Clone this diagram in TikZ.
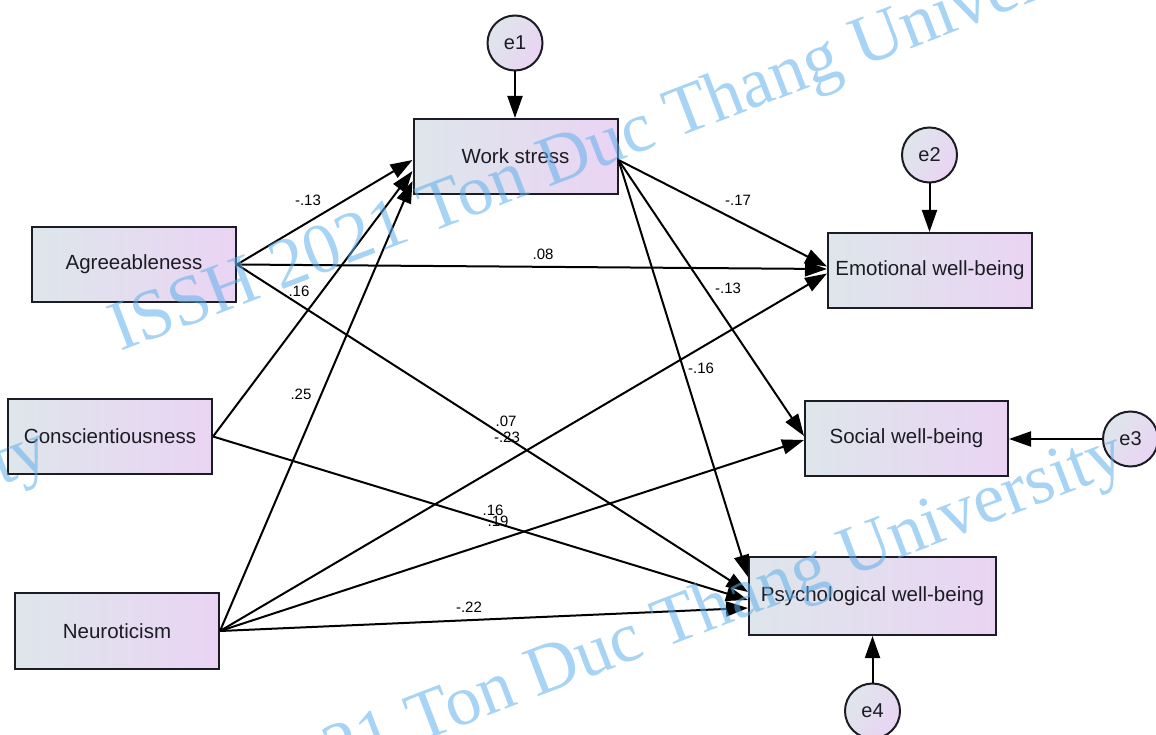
\documentclass[tikz,border=0pt]{standalone}
\usepackage{fontspec}
\setmainfont{Liberation Sans}
\newfontfamily\wmfont{Liberation Serif}
\usetikzlibrary{arrows.meta,calc}

\definecolor{boxL}{RGB}{222,230,235}
\definecolor{boxR}{RGB}{234,212,243}
\definecolor{wmblue}{RGB}{95,175,235}
\definecolor{ink}{RGB}{28,28,36}

\begin{document}
\begin{tikzpicture}[x=1pt,y=-1pt,
  varbox/.style={draw=ink, line width=2pt, left color=boxL, right color=boxR,
    minimum width=204pt, minimum height=75pt, inner sep=0pt,
    font=\fontsize{20.5}{24}\selectfont, text=ink},
  errc/.style={circle, draw=ink, line width=2pt, left color=boxL, right color=boxR,
    shading angle=60, minimum size=55pt, inner sep=0pt,
    font=\fontsize{20}{24}\selectfont, text=ink},
  link/.style={line width=2pt, draw=black, -{Triangle[length=22pt,width=15pt]}},
  coef/.style={font=\fontsize{15}{18}\selectfont, inner sep=0pt, text=black},
  wmark/.style={font=\wmfont\fontsize{71}{80}\selectfont, text=wmblue,
    text opacity=0.55, anchor=base west, rotate=21, inner sep=0pt}
]
\useasboundingbox (0,0) rectangle (1156,735);
\fill[white] (0,0) rectangle (1156,735);

% observed variables
\node[varbox] (ws) at (515.5,156.5) {Work stress};
\node[varbox] (ag) at (134,264.5) {Agreeableness};
\node[varbox] (co) at (110,436.5) {Conscientiousness};
\node[varbox, minimum height=76pt] (ne) at (117,631) {Neuroticism};
\node[varbox] (ew) at (930,270.5) {Emotional well-being};
\node[varbox, minimum width=203pt] (sw) at (906.5,438.5) {Social well-being};
\node[varbox, minimum width=247pt, minimum height=78pt] (pw) at (872.5,596) {Psychological well-being};

% residual terms
\node[errc] (e1) at (515,43) {e1};
\node[errc] (e2) at (929.5,155) {e2};
\node[errc] (e3) at (1130.5,439) {e3};
\node[errc] (e4) at (872.5,711) {e4};

% residual paths
\draw[link] (e1.south) -- (e1.south |- ws.north);
\draw[link] (e2.south) -- (e2.south |- ew.north);
\draw[link] (e3.west) -- (e3.west -| sw.east);
\draw[link] (e4.north) -- (e4.north |- pw.south);

% predictors -> work stress
\draw[link] (ag.east) -- ([yshift=-3.5pt]ws.west);
\draw[link] (co.east) -- ([yshift=-14.5pt]ws.west);
\draw[link] (ne.east) -- ([yshift=-24.5pt]ws.west);

% direct paths to outcomes
\draw[link] (ag.east) -- ([yshift=1.5pt]ew.west);
\draw[link] (ag.east) -- ([yshift=4pt]pw.west);
\draw[link] (co.east) -- ([yshift=-4pt]pw.west);
\draw[link] (ne.east) -- ([yshift=-3pt]ew.west);
\draw[link] (ne.east) -- ([yshift=-1.5pt]sw.west);
\draw[link] (ne.east) -- ([yshift=-12pt]pw.west);

% work stress -> outcomes
\draw[link] ([yshift=-3.5pt]ws.east) -- ([yshift=4pt]ew.west);
\draw[link] ([yshift=-3.5pt]ws.east) -- ([yshift=2.5pt]sw.west);
\draw[link] ([yshift=-3.5pt]ws.east) -- ([yshift=19pt]pw.west);

% standardized coefficients
\node[coef] (c1) at (308,200) {-.13};
\node[coef] (c2) at (543,254) {.08};
\node[coef] (c3) at (299,291) {.16};
\node[coef] (c4) at (301,394) {.25};
\node[coef] (c5) at (506,421) {.07};
\node[coef] (c6) at (507,437) {-.23};
\node[coef] (c7) at (493,510) {.16};
\node[coef] (c8) at (498,521) {.19};
\node[coef] (c9) at (469,607) {-.22};
\node[coef] (c10) at (738,200) {-.17};
\node[coef] (c11) at (728,288) {-.13};
\node[coef] (c12) at (701,368) {-.16};

% watermark
\begin{scope}
\clip (0,0) rectangle (1156,735);
\node[wmark] (wmA) at (120,352) {ISSH 2021 Ton Duc Thang University};
\node[wmark] (wmB) at (108,862) {ISSH 2021 Ton Duc Thang University};
\node[wmark] (wmC) at (-968,858) {ISSH 2021 Ton Duc Thang University};
\end{scope}
\end{tikzpicture}
\end{document}
